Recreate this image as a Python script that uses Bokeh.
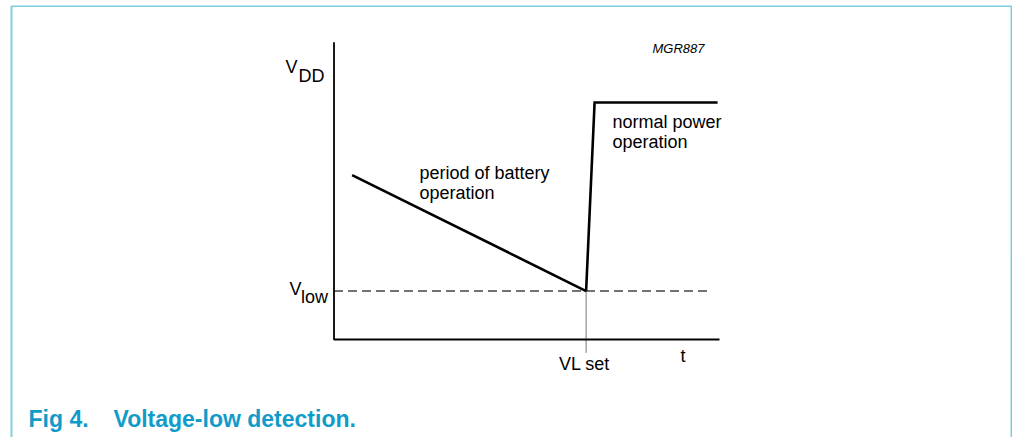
from bokeh.plotting import figure
from bokeh.models import Range1d, Label
from bokeh.embed import file_html
from bokeh.resources import INLINE

# ---- diagram data (t: time units, v: voltage units; axes run 0..10) ----
axis_t = [0.0, 0.0, 10.0]
axis_v = [10.0, 0.0, 0.0]
battery_t = [0.47, 6.54]
battery_v = [5.53, 1.63]
rise_t = [6.54, 6.76, 9.95]
rise_v = [1.63, 7.97, 7.97]
vlow_t = [0.0, 9.8]
vlow_v = [1.63, 1.63]
vlset_t = [6.54, 6.54]
vlset_v = [1.63, -0.45]

FONT = "Liberation Sans"
BLUE = "#119bc9"
FRAME = "#7dcfe0"

# page-pixel coordinate system for the whole canvas
p = figure(width=1004, height=432, x_range=Range1d(8, 1012), y_range=Range1d(437, 5),
           output_backend="svg", toolbar_location=None, min_border=0,
           x_axis_type=None, y_axis_type=None)
p.margin = (5, 0, 0, 8)
p.grid.visible = False
p.outline_line_color = None
p.background_fill_color = "white"
p.border_fill_color = "white"

# diagram ranges mapped onto the same canvas: t=0 at px 333.5, t=10 at px 719
sx = (719.0 - 333.5) / 10.0
sy = (339.0 - 41.7) / 10.0
p.extra_x_ranges = {"t": Range1d((8 - 333.5) / sx, (1012 - 333.5) / sx)}
p.extra_y_ranges = {"v": Range1d((339.0 - 437) / sy, (339.0 - 5) / sy)}

# outer frame
p.line([11, 11, 1011, 1011], [440, 5.5, 5.5, 440], line_color=FRAME, line_width=2)

kw = dict(x_range_name="t", y_range_name="v")
p.line(vlset_t, vlset_v, line_color="#777777", line_width=1, **kw)
p.line(vlow_t, vlow_v, line_color="#444444", line_width=1.5, line_dash="9 5", **kw)
p.line(axis_t, axis_v, line_color="black", line_width=1.8, **kw)
p.line(battery_t, battery_v, line_color="black", line_width=2.6, **kw)
p.line(rise_t, rise_v, line_color="black", line_width=2.6, line_join="miter", **kw)

def lab(x, y, s, size=18, align="left", color="black", style="normal"):
    p.add_layout(Label(x=x, y=y, text=s, text_font=FONT, text_font_size=f"{size}px",
                       text_align=align, text_baseline="alphabetic",
                       text_color=color, text_font_style=style))

lab(285, 66, "V")
lab(298, 75, "DD")
lab(289, 288, "V")
lab(300.5, 296, "low")
lab(584, 363, "VL set", align="center")
lab(680, 355, "t")
lab(419, 172, "period of battery")
lab(419, 192, "operation")
lab(612, 121, "normal power")
lab(612, 141, "operation")
lab(652, 48, "MGR887", size=13, style="italic")
lab(28, 418, "Fig 4.", size=23, color=BLUE, style="bold")
lab(113, 418, "Voltage-low detection.", size=23, color=BLUE, style="bold")

open("out.html", "w").write(file_html(p, INLINE))
